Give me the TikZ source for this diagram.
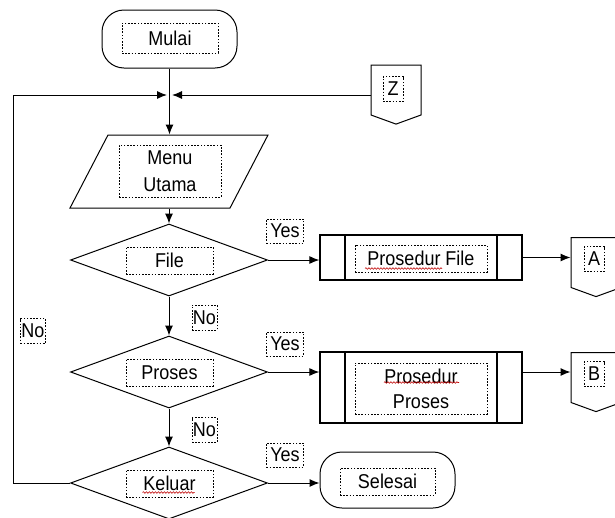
\documentclass[tikz,border=0pt]{standalone}
\usepackage{fontspec}
\setmainfont[FakeStretch=0.9]{Liberation Sans}
\usetikzlibrary{arrows.meta}
\usetikzlibrary{shapes.geometric}
\usetikzlibrary{shapes.symbols}
\usetikzlibrary{decorations.pathmorphing}
\tikzset{flow/.style = {draw, line width=1pt, -{Latex[length=10pt,width=8pt]}}}
\tikzset{terminal/.style = {draw, line width=1pt, rectangle, rounded corners=22pt, minimum width=135pt, minimum height=58pt}}
\tikzset{decision/.style = {draw, line width=1pt, diamond, inner sep=0, minimum width=197pt, minimum height=72pt}}
\tikzset{inout/.style = {draw, line width=1pt, rectangle, xslant=0.52, transform shape, minimum width=160pt, minimum height=73pt}}
\tikzset{subproc/.style = {draw, line width=1.3pt, rectangle, minimum width=202pt,
    path picture={\draw[line width=1.3pt] ([xshift=25pt]path picture bounding box.north west) -- ([xshift=25pt]path picture bounding box.south west)
      ([xshift=-25pt]path picture bounding box.north east) -- ([xshift=-25pt]path picture bounding box.south east);}}}
\tikzset{offpage/.style = {draw, line width=1pt, signal, signal to=south, signal pointer angle=140, inner sep=0, minimum width=50pt, minimum height=50pt}}
\tikzset{dotbox/.style = {draw, line width=0.9pt, dash pattern=on 1.6pt off 1.6pt, inner sep=0, font=\fontsize{20}{24}\selectfont}}
\tikzset{spell/.style = {red!75!black, line width=0.6pt, decorate, decoration={snake, amplitude=0.8pt, segment length=3pt}}}

\begin{document}
\begin{tikzpicture}[x=1pt, y=-1pt]
    \useasboundingbox (0,0) rectangle (615,517);
    % start and main menu
    \node[terminal] (mulai) at (169.5,39) {};
    \node[dotbox, minimum width=96pt, minimum height=30pt] (mulai-t) at (170,38) {Mulai};
    \coordinate (join) at (169.5,95);
    \node[inout] (menu) at (169,171.5) {};
    \node[dotbox, minimum width=102pt, minimum height=52pt, align=center, font=\fontsize{20}{27}\selectfont] (menu-t) at (170,171) {Menu\\Utama};
    % decisions
    \node[decision] (file) at (169,260) {};
    \node[dotbox, minimum width=87pt, minimum height=27pt] (file-t) at (169.5,260.5) {File};
    \node[decision] (proses) at (169,372) {};
    \node[dotbox, minimum width=87pt, minimum height=27pt] (proses-t) at (169.5,372.5) {Proses};
    \node[decision] (keluar) at (169,483) {};
    \node[dotbox, minimum width=87pt, minimum height=27pt] (keluar-t) at (169.5,483.5) {Keluar};
    % procedures and end
    \node[subproc, minimum height=45pt] (pfile) at (421,257.5) {};
    \node[dotbox, minimum width=132pt, minimum height=27pt] (pfile-t) at (421,258.5) {Prosedur File};
    \node[subproc, minimum height=71pt] (pproses) at (421,387.5) {};
    \node[dotbox, minimum width=132pt, minimum height=51pt, align=center, font=\fontsize{20}{25}\selectfont] (pproses-t) at (421,388.5) {Prosedur\\Proses};
    \node[terminal, minimum height=56pt] (selesai) at (387.5,480) {};
    \node[dotbox, minimum width=95pt, minimum height=27pt] (selesai-t) at (387.5,481.5) {Selesai};
    % off-page connectors
    \node[offpage] (conZ) at (396,90) {};
    \node[dotbox, minimum width=20pt, minimum height=25pt] (conZ-t) at (393,89) {Z};
    \node[offpage] (conA) at (596,262.5) {};
    \node[dotbox, minimum width=20pt, minimum height=25pt] (conA-t) at (594,259) {A};
    \node[offpage] (conB) at (596,377.5) {};
    \node[dotbox, minimum width=20pt, minimum height=25pt] (conB-t) at (594,374) {B};
    % labels
    \node[dotbox, minimum width=37pt, minimum height=24pt] (yes-file) at (285,231) {Yes};
    \node[dotbox, minimum width=37pt, minimum height=24pt] (yes-proses) at (285,344) {Yes};
    \node[dotbox, minimum width=37pt, minimum height=24pt] (yes-keluar) at (285,455) {Yes};
    \node[dotbox, minimum width=25pt, minimum height=25pt] (no-file) at (204.5,317.5) {No};
    \node[dotbox, minimum width=25pt, minimum height=25pt] (no-proses) at (204.5,430) {No};
    \node[dotbox, minimum width=25pt, minimum height=25pt] (no-keluar) at (33,331) {No};
    % flow lines
    \draw[flow] (mulai.south) -- (mulai.south |- menu.north);
    \draw[flow, shorten >=2.5pt] (conZ.west |- join) -- (join);
    \draw[flow, shorten >=2.5pt] (keluar.west) -- ++(-57,0) |- (join);
    \draw[flow] (menu.south -| file.north) -- (file.north);
    \draw[flow] (file.south) -- (proses.north);
    \draw[flow] (proses.south) -- (keluar.north);
    \draw[flow] (file.east) -- (file.east -| pfile.west);
    \draw[flow] (proses.east) -- (proses.east -| pproses.west);
    \draw[flow] (keluar.east) -- (keluar.east -| selesai.west);
    \draw[flow] (pfile.east) -- (pfile.east -| conA.west);
    \draw[flow] (proses.east -| pproses.east) -- (proses.east -| conB.west);
    % spelling marks
    \draw[spell] ([xshift=-56pt,yshift=-10pt]pfile-t.center) -- ([xshift=21pt,yshift=-10pt]pfile-t.center);
    \draw[spell] ([xshift=-37pt,yshift=6pt]pproses-t.center) -- ([xshift=38pt,yshift=6pt]pproses-t.center);
    \draw[spell] ([xshift=-27pt,yshift=-9pt]keluar-t.center) -- ([xshift=25pt,yshift=-9pt]keluar-t.center);
\end{tikzpicture}
\end{document}
